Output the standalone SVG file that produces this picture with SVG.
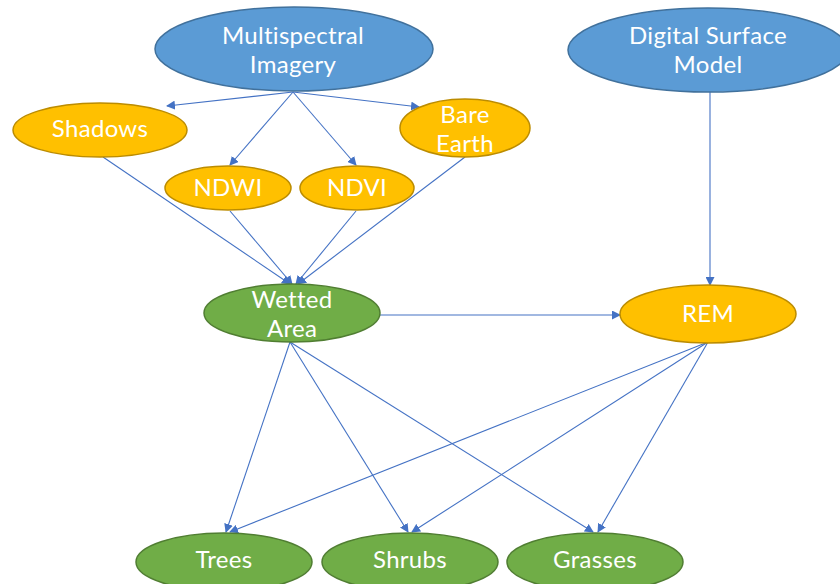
<svg xmlns="http://www.w3.org/2000/svg" width="840" height="584" viewBox="0 0 840 584">
<defs>
<marker id="ah" markerWidth="9" markerHeight="9" refX="8" refY="4.5" orient="auto" markerUnits="userSpaceOnUse">
<path d="M0,0 L9,4.5 L0,9 z" fill="#4472C4"/>
</marker>
<style>
.blue{fill:#5B9BD5;stroke:#41719C;stroke-width:1.5}
.orange{fill:#FFC000;stroke:#BC8C00;stroke-width:1.5}
.green{fill:#70AD47;stroke:#507E32;stroke-width:1.5}
.t{font-family:Lato,"Open Sans",sans-serif;font-size:24px;fill:#fff;text-anchor:middle;letter-spacing:0.3px}
.c line{stroke:#4472C4;stroke-width:1.1;marker-end:url(#ah)}
</style>
</defs>
<rect width="840" height="584" fill="#fff"/>
<g class="c" id="connectors">
<line x1="293" y1="92" x2="167" y2="106"/>
<line x1="293" y1="92" x2="419" y2="107"/>
<line x1="293" y1="92" x2="230" y2="165"/>
<line x1="293" y1="92" x2="356" y2="165"/>
<line x1="103" y1="157" x2="290" y2="284"/>
<line x1="230" y1="211" x2="292" y2="284"/>
<line x1="356" y1="211" x2="296" y2="284"/>
<line x1="465" y1="157" x2="298" y2="284"/>
<line x1="710" y1="92" x2="710" y2="285"/>
<line x1="380" y1="315" x2="620" y2="315"/>
<line x1="290" y1="342" x2="226" y2="532"/>
<line x1="290" y1="342" x2="408" y2="532"/>
<line x1="290" y1="342" x2="593" y2="532"/>
<line x1="708" y1="342" x2="230" y2="532"/>
<line x1="708" y1="342" x2="412" y2="532"/>
<line x1="708" y1="342" x2="598" y2="532"/>
</g>
<g id="multispectral"><ellipse class="blue" cx="294" cy="49" rx="139" ry="42"/><text class="t" x="293" y="44">Multispectral</text><text class="t" x="293" y="73">Imagery</text></g>
<g id="dsm"><ellipse class="blue" cx="708" cy="50" rx="140" ry="42"/><text class="t" x="708" y="44">Digital Surface</text><text class="t" x="708" y="73">Model</text></g>
<g id="shadows"><ellipse class="orange" cx="100" cy="130" rx="87" ry="27"/><text class="t" x="100" y="137">Shadows</text></g>
<g id="bare"><ellipse class="orange" cx="465" cy="128" rx="65" ry="29"/><text class="t" x="465" y="123">Bare</text><text class="t" x="465" y="152">Earth</text></g>
<g id="ndwi"><ellipse class="orange" cx="228" cy="188" rx="63" ry="22"/><text class="t" x="228" y="196">NDWI</text></g>
<g id="ndvi"><ellipse class="orange" cx="357" cy="188" rx="57" ry="22"/><text class="t" x="357" y="196">NDVI</text></g>
<g id="wetted"><ellipse class="green" cx="292" cy="313" rx="88" ry="29"/><text class="t" x="292" y="308">Wetted</text><text class="t" x="292" y="337">Area</text></g>
<g id="rem"><ellipse class="orange" cx="708" cy="314" rx="88" ry="29"/><text class="t" x="708" y="322">REM</text></g>
<g id="trees"><ellipse class="green" cx="224" cy="562" rx="88" ry="29"/><text class="t" x="224" y="568">Trees</text></g>
<g id="shrubs"><ellipse class="green" cx="410" cy="562" rx="88" ry="29"/><text class="t" x="410" y="568">Shrubs</text></g>
<g id="grasses"><ellipse class="green" cx="595" cy="562" rx="88" ry="29"/><text class="t" x="595" y="568">Grasses</text></g>
</svg>
